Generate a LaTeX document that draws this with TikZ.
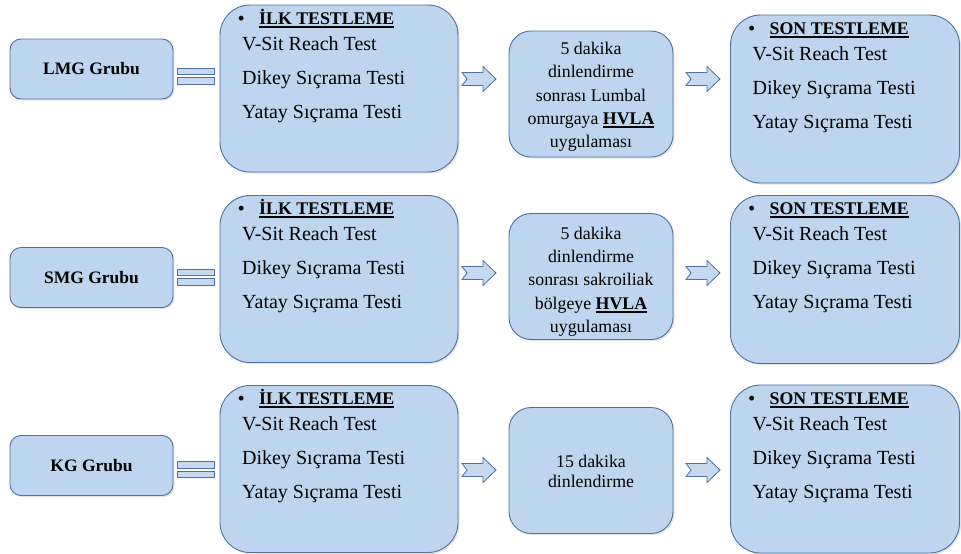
\documentclass[tikz,border=0pt]{standalone}
\usepackage{fontspec}
\setmainfont{Liberation Serif}
\usetikzlibrary{calc,shadows}
\definecolor{boxfill}{HTML}{BDD5EE}
\definecolor{boxline}{HTML}{4E70A3}
\definecolor{arrfill}{HTML}{C5DAF0}
\newcommand\ulbar[1]{\setbox0\hbox{#1}\rlap{\rule[-3.5pt]{\wd0}{1.6pt}}\box0}
\newcommand\testtexts[2]{%
  \node[hd, anchor=base west] (#1b) at ($(#1.north west)+(18,19)$) {•};
  \node[hd, anchor=base west] (#1h) at ($(#1.north west)+(39,19)$) {\ulbar{#2}};
  \node[tx, anchor=base west] (#1x) at ($(#1.north west)+(22,45)$) {V-Sit Reach Test};
  \node[tx, anchor=base west] (#1y) at ($(#1.north west)+(22,79)$) {Dikey Sıçrama Testi};
  \node[tx, anchor=base west] (#1z) at ($(#1.north west)+(22,113)$) {Yatay Sıçrama Testi};
}
\newcommand\eqsign[1]{%
  \draw[conn] ($(#1)+(-18.5,-8)$) rectangle ($(#1)+(18.5,-1.5)$);
  \draw[conn] ($(#1)+(-18.5,1.5)$) rectangle ($(#1)+(18.5,8)$);
}
\newcommand\blockarrow[1]{%
  \draw[conn, shift={(#1)}] (-17,-6.5) -- (4,-6.5) -- (4,-12.5) -- (17,0) -- (4,12.5)
     -- (4,6.5) -- (-17,6.5) -- (-12,0) -- cycle;
}
\begin{document}
\begin{tikzpicture}[x=1pt,y=-1pt,
  base/.style={draw=boxline, line width=0.9pt, fill=boxfill,
    drop shadow={shadow xshift=1.5pt, shadow yshift=-1.5pt, opacity=0.22},
    inner sep=0pt, outer sep=0pt},
  grp/.style={base, rounded corners=11pt, minimum width=163pt, minimum height=60pt,
    font=\fontsize{17.5}{21}\selectfont\bfseries},
  testbox/.style={base, rounded corners=30pt, minimum width=238pt, minimum height=167pt},
  sonbox/.style={base, rounded corners=30pt, minimum width=229pt, minimum height=168pt},
  midbox/.style={base, rounded corners=22pt, minimum width=164pt, minimum height=126pt},
  midtext/.style={inner sep=0pt, align=center, font=\fontsize{17.8}{23.3}\selectfont},
  hd/.style={inner sep=0pt, font=\fontsize{17.8}{21}\selectfont\bfseries},
  tx/.style={inner sep=0pt, font=\fontsize{20}{24}\selectfont},
  conn/.style={draw=boxline, line width=0.8pt, fill=arrfill}
]
\useasboundingbox[fill=white] (0,0) rectangle (961,554);

% Row 1
\node[grp] (g1) at (91.5,69) {LMG Grubu};
\node[testbox] (ilk1) at (339,88.5) {};
\node[midbox] (mid1) at (591,94) {};
\node[midtext] (mid1t) at ($(mid1)+(0,3)$) {5 dakika\\dinlendirme\\sonrası Lumbal\\omurgaya \ulbar{\bfseries HVLA}\\uygulaması};
\node[sonbox] (son1) at (845,99) {};
\testtexts{ilk1}{İLK TESTLEME}
\testtexts{son1}{SON TESTLEME}
\coordinate (e1) at (195.5,76);
\coordinate (a1) at (479,79);
\coordinate (b1) at (703,79);
\eqsign{e1}
\blockarrow{a1}
\blockarrow{b1}

% Row 2
\node[grp] (g2) at (91.5,277.5) {SMG Grubu};
\node[testbox] (ilk2) at (339,279) {};
\node[midbox] (mid2) at (591,276.5) {};
\node[midtext] (mid2t) at ($(mid2)+(0,5)$) {5 dakika\\dinlendirme\\sonrası sakroiliak\\bölgeye \ulbar{\bfseries HVLA}\\uygulaması};
\node[sonbox] (son2) at (845,279.5) {};
\testtexts{ilk2}{İLK TESTLEME}
\testtexts{son2}{SON TESTLEME}
\coordinate (e2) at (195.5,277);
\coordinate (a2) at (479,273);
\coordinate (b2) at (703,273);
\eqsign{e2}
\blockarrow{a2}
\blockarrow{b2}

% Row 3
\node[grp] (g3) at (91.5,465.5) {KG Grubu};
\node[testbox] (ilk3) at (339,469) {};
\node[midbox] (mid3) at (591,470.5) {};
\node[midtext, font=\fontsize{17.8}{20}\selectfont] (mid3t) at ($(mid3)+(0,1)$) {15 dakika\\dinlendirme};
\node[sonbox] (son3) at (845,469) {};
\testtexts{ilk3}{İLK TESTLEME}
\testtexts{son3}{SON TESTLEME}
\coordinate (e3) at (195.5,469.5);
\coordinate (a3) at (479,470);
\coordinate (b3) at (703,470);
\eqsign{e3}
\blockarrow{a3}
\blockarrow{b3}
\end{tikzpicture}
\end{document}
